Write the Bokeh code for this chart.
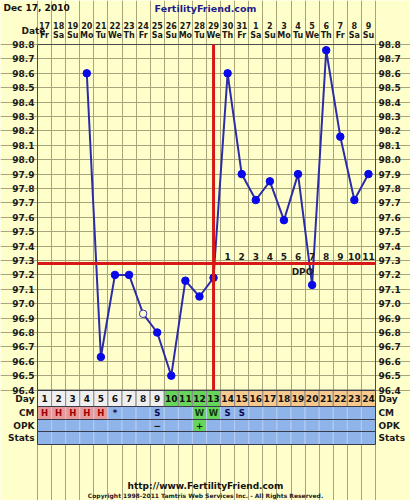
from bokeh.plotting import figure
from bokeh.models import Range1d, FixedTicker
from bokeh.core.properties import value
from bokeh.embed import file_html
from bokeh.resources import INLINE

# ---------------- data ----------------
chart_date = "Dec 17, 2010"
site_name = "FertilityFriend.com"
site_url = "http://www.FertilityFriend.com"
copyright_text = "Copyright 1998-2011 Tamtris Web Services Inc. - All Rights Reserved."

days = list(range(1, 25))
dates = ["17", "18", "19", "20", "21", "22", "23", "24", "25", "26", "27", "28",
         "29", "30", "31", "1", "2", "3", "4", "5", "6", "7", "8", "9"]
weekdays = ["Fr", "Sa", "Su", "Mo", "Tu", "We", "Th", "Fr", "Sa", "Su", "Mo", "Tu",
            "We", "Th", "Fr", "Sa", "Su", "Mo", "Tu", "We", "Th", "Fr", "Sa", "Su"]
nan = float("nan")
temps = [nan, nan, nan, 98.60, 96.63, 97.20, 97.20, 96.93, 96.80, 96.50, 97.16, 97.05,
         97.18, 98.60, 97.90, 97.72, 97.85, 97.58, 97.90, 97.13, 98.76, 98.16, 97.72, 97.90]
open_days = [8]
cover_line = 97.28
ovulation_day = 13
dpo_labels = ["1", "2", "3", "4", "5", "6", "7", "8", "9", "10", "11"]
dpo_days = list(range(14, 25))
phase = ["pre"] * 9 + ["fertile"] * 4 + ["post"] * 11
cm = ["H", "H", "H", "H", "H", "*", "", "", "S", "", "", "W", "W", "S", "S"] + [""] * 9
opk = [""] * 8 + ["\u2212", "", "", "+"] + [""] * 12
temp_ticks = [round(96.4 + 0.1 * i, 1) for i in range(25)]
temp_tick_labels = ["%.1f" % t for t in temp_ticks]
row_names = ["Day", "CM", "OPK", "Stats"]

# ---------------- layout helpers (reference pixels -> data) ----------------
W, H = 410, 500
X0, X1, Y0 = 37.0, 375.0, 44.0
PXD = (X1 - X0) / 24.0
PXT = 144.0


def dx(px):
    return 0.5 + (px - X0) / PXD


def dy(py):
    return 98.8 - (py - Y0) / PXT


row_edges = [390, 406, 419, 431, 444]

BG = "#ffffcc"
FONT = "DejaVu Sans"
TXT = "#1a1a1a"

p = figure(width=W, height=H, output_backend="svg", toolbar_location=None,
           x_range=Range1d(dx(0), dx(W)), y_range=Range1d(dy(H), dy(0)),
           x_axis_location=None, y_axis_location=None,
           min_border=0, background_fill_color=BG, border_fill_color=BG,
           outline_line_color=None)

# grid (limited to the chart area)
p.xgrid.ticker = FixedTicker(ticks=[0.5 + i for i in range(25)])
p.xgrid.bounds = (96.4, 98.8)
p.ygrid.ticker = FixedTicker(ticks=temp_ticks)
p.ygrid.bounds = (0.5, 24.5)
for g in (p.xgrid, p.ygrid):
    g.grid_line_color = "#a8a47c"
    g.grid_line_width = 1

# chart border
p.rect(x=[12.5], y=[97.6], width=24, height=2.4, fill_color=None,
       line_color="#4a4a4a", line_width=1)


def txt(x, y, t, align="center", size="9px", color=TXT, style="bold"):
    p.text(x=x, y=y, text=t, text_align=align, text_baseline="middle",
           text_font=value(FONT), text_font_style=style, text_font_size=size,
           text_color=color)


# temperature tick labels, both sides
txt([dx(34)] * 25, temp_ticks, temp_tick_labels, align="right")
txt([dx(378)] * 25, temp_ticks, temp_tick_labels, align="left")

# ---------------- table rows ----------------
phase_colors = {"pre": "#efefef", "fertile": "#66d65a", "post": "#f7c98c"}
row_c = [(dy(row_edges[i]) + dy(row_edges[i + 1])) / 2 for i in range(4)]
row_h = [dy(row_edges[i]) - dy(row_edges[i + 1]) for i in range(4)]

p.rect(x=days, y=[row_c[0]] * 24, width=1, height=row_h[0],
       fill_color=[phase_colors[ph] for ph in phase], line_color="#8a8a8a")

cm_fill = []
for c in cm:
    if c == "H":
        cm_fill.append("#e79a9a")
    elif c == "W":
        cm_fill.append("#66d65a")
    else:
        cm_fill.append("#8fb4ea")
opk_fill = ["#66d65a" if o == "+" else "#8fb4ea" for o in opk]
p.rect(x=days, y=[row_c[1]] * 24, width=1, height=row_h[1],
       fill_color=cm_fill, line_color="#b7cdf3")
p.rect(x=days, y=[row_c[2]] * 24, width=1, height=row_h[2],
       fill_color=opk_fill, line_color="#b7cdf3")
p.rect(x=days, y=[row_c[3]] * 24, width=1, height=row_h[3],
       fill_color=["#8fb4ea"] * 24, line_color="#b7cdf3")
p.segment(x0=[0.5] * 5, x1=[24.5] * 5, y0=[dy(e) for e in row_edges],
          y1=[dy(e) for e in row_edges], line_color="#3a3a4a", line_width=1)
p.segment(x0=[0.5, 24.5], x1=[0.5, 24.5], y0=[dy(row_edges[0])] * 2,
          y1=[dy(row_edges[-1])] * 2, line_color="#3a3a4a", line_width=1)

txt(days, [row_c[0]] * 24, [str(d) for d in days], color="#111111")
cm_col = ["#a00000" if c == "H" else ("#0a3a0a" if c == "W" else "#0a0a50") for c in cm]
txt(days, [row_c[1]] * 24, cm, size="8.5px", color=cm_col)
txt(days, [row_c[2]] * 24, opk, color="#0a1a0a")

# row labels
txt([dx(34)] * 4, row_c, row_names, align="right")
txt([dx(378)] * 4, row_c, row_names, align="left")

# ---------------- temperature curve ----------------
p.line(x=days, y=temps, line_color="#2c2ca8", line_width=2)
closed = [t if d not in open_days else nan for d, t in zip(days, temps)]
opened = [t if d in open_days else nan for d, t in zip(days, temps)]
p.scatter(x=days, y=closed, size=7.5, fill_color="#0808e8", line_color="#0808e8")
p.scatter(x=days, y=opened, size=7.5, fill_color=BG, line_color="#3030c0",
          line_width=1)

# cover line and ovulation line
p.segment(x0=[0.5], x1=[24.5], y0=[cover_line], y1=[cover_line],
          line_color="#d81818", line_width=3)
p.segment(x0=[ovulation_day], x1=[ovulation_day], y0=[96.4], y1=[98.8],
          line_color="#d81818", line_width=3)

# DPO labels
txt(dpo_days, [dy(256)] * len(dpo_days), dpo_labels)
txt([dx(302)], [dy(271)], ["DPO"])

# ---------------- header ----------------
txt(days, [dy(24.5)] * 24, dates, size="8px")
txt(days, [dy(34.5)] * 24, weekdays, size="8px")
txt([dx(33)], [dy(30)], ["Date"])
txt([dx(3)], [dy(7.5)], [chart_date], align="left", color="#111111")
txt([dx(205)], [dy(7.5)], [site_name], size="9.5px", color="#1c1c8c")

# ---------------- footer ----------------
txt([dx(205)], [dy(485)], [site_url], color="#111111")
txt([dx(205)], [dy(495)], [copyright_text], size="6px", color="#222222")

open("out.html", "w").write(file_html(p, INLINE))
